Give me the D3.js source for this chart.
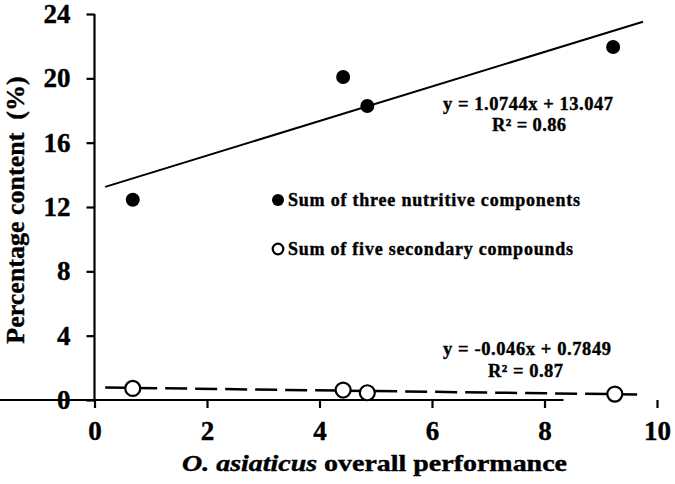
<!DOCTYPE html>
<html>
<head>
<meta charset="utf-8">
<script src="https://cdn.jsdelivr.net/npm/d3@7"></script>
<style>
  html, body { margin: 0; padding: 0; background: #fff; }
  svg { display: block; }
  text { font-family: "Liberation Serif", "Times New Roman", serif; font-weight: bold; fill: #000; stroke: #000; stroke-width: 0.4px; }
</style>
</head>
<body>
<svg id="chart" width="675" height="484"></svg>
<script>
// ---- data ----
const performance = [0.68, 4.42, 4.85, 9.22];
const nutritive = [12.45, 20.08, 18.28, 21.95];
const performanceSecondary = [0.68, 4.42, 4.85, 9.25];
const secondary = [0.72, 0.62, 0.45, 0.37];
const xTicks = [0, 2, 4, 6, 8, 10];
const yTicks = [0, 4, 8, 12, 16, 20, 24];
const trendNutritive = { slope: 1.0744, intercept: 13.047 };
const trendSecondary = { slope: -0.046, intercept: 0.7849 };
const trendRange = [0.19, 9.75];
const legendLabels = ["Sum of three nutritive components", "Sum of five secondary compounds"];
const equationLabels = [["y = 1.0744x + 13.047", "R² = 0.86"], ["y = -0.046x + 0.7849", "R² = 0.87"]];

// ---- layout ----
const svg = d3.select("#chart");
const margin = { left: 94.5, right: 18, top: 14, bottom: 84 };
const W = 675, H = 484;
const x = d3.scaleLinear().domain([0, 10]).range([margin.left, W - margin.right]);
const y = d3.scaleLinear().domain([0, 24]).range([H - margin.bottom, margin.top]);

// axes
const xAxis = svg.append("g")
  .attr("transform", `translate(0,${y(0)})`)
  .call(d3.axisBottom(x).tickValues(xTicks).tickSizeOuter(0).tickSize(8).tickPadding(13));
const yAxis = svg.append("g")
  .attr("transform", `translate(${x(0)},0)`)
  .call(d3.axisLeft(y).tickValues(yTicks).tickSizeOuter(0).tickSize(8).tickPadding(16));
[xAxis, yAxis].forEach(g => {
  g.select(".domain").attr("stroke", "#000").attr("stroke-width", 2.2);
  g.selectAll(".tick line").attr("stroke", "#000").attr("stroke-width", 2.2);
  g.selectAll(".tick text")
    .style("font-family", '"Liberation Serif", "Times New Roman", serif')
    .style("font-weight", "bold").style("font-size", "27px").attr("fill", "#000");
});
yAxis.select(".domain").attr("d", `M0,${y(24)}V${y(0) + 1}`);
xAxis.select(".domain").attr("d", `M-1,0H${x(10) - x(0) + 1}`);

// axis titles
const xt = svg.append("text")
  .attr("x", 182)
  .attr("y", 471)
  .attr("textLength", 385)
  .attr("lengthAdjust", "spacingAndGlyphs")
  .style("font-size", "23px");
xt.append("tspan").style("font-style", "italic").text("O. asiaticus");
xt.append("tspan").text(" overall performance");

svg.append("text")
  .attr("transform", `translate(24,${(y(0) + y(24)) / 2 + 3}) rotate(-90)`)
  .attr("text-anchor", "middle")
  .style("font-size", "26px")
  .attr("xml:space", "preserve")
  .style("white-space", "pre")
  .text("Percentage content  (%)");

// trendlines
const line = d3.line().x(d => x(d[0])).y(d => y(d[1]));
function trendPts(t) { return trendRange.map(v => [v, t.slope * v + t.intercept]); }
svg.append("path").attr("d", line(trendPts(trendNutritive)))
  .attr("fill", "none").attr("stroke", "#000").attr("stroke-width", 2);
svg.append("path").attr("d", line(trendPts(trendSecondary)))
  .attr("fill", "none").attr("stroke", "#000").attr("stroke-width", 2.5)
  .attr("stroke-dasharray", "22,8");

// points
svg.append("g").selectAll("circle")
  .data(performance.map((v, i) => [v, nutritive[i]]))
  .join("circle")
  .attr("cx", d => x(d[0])).attr("cy", d => y(d[1])).attr("r", 7)
  .attr("fill", "#000");
svg.append("g").selectAll("circle")
  .data(performanceSecondary.map((v, i) => [v, secondary[i]]))
  .join("circle")
  .attr("cx", d => x(d[0])).attr("cy", d => y(d[1])).attr("r", 7.5)
  .attr("fill", "#fff").attr("stroke", "#000").attr("stroke-width", 2.2);

// legend
const legendY = [200, 249];
const legendLen = [292, 285];
svg.append("circle").attr("cx", 278).attr("cy", legendY[0]).attr("r", 6).attr("fill", "#000");
svg.append("circle").attr("cx", 278).attr("cy", legendY[1]).attr("r", 5.3).attr("fill", "#fff")
  .attr("stroke", "#000").attr("stroke-width", 2.2);
legendLabels.forEach((t, i) => {
  svg.append("text").attr("x", 288).attr("y", legendY[i] + 6)
    .attr("textLength", legendLen[i]).attr("lengthAdjust", "spacing")
    .style("font-size", "18px").text(t);
});

// equations
const eqY = [[110, 131], [355, 377]];
const eqX = [[443, 492], [443, 488]];
const eqLen = [[170, 74], [168, 75]];
equationLabels.forEach((lines, i) => {
  lines.forEach((t, j) => {
    svg.append("text").attr("x", eqX[i][j]).attr("y", eqY[i][j])
      .attr("textLength", eqLen[i][j]).attr("lengthAdjust", "spacing")
      .style("font-size", "18.5px").text(t);
  });
});
</script>
</body>
</html>
